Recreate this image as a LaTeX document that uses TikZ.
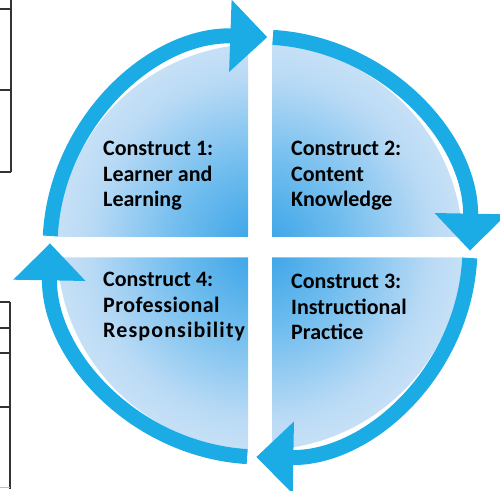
\documentclass[tikz,border=0pt]{standalone}
\usepackage{fontspec}
\setmainfont{Carlito}
\usepackage{tikz}
\usetikzlibrary{arrows.meta}

\definecolor{ringblue}{RGB}{27,172,230}
\definecolor{qdark}{RGB}{55,162,230}
\definecolor{qdeep}{RGB}{110,188,238}
\definecolor{qmid}{RGB}{185,218,245}
\definecolor{qlight}{RGB}{230,240,250}
\pgfdeclareradialshading{quadfill}{\pgfpoint{0bp}{0bp}}{color(0bp)=(qdark); color(10bp)=(qdeep); color(21bp)=(qmid); color(35bp)=(qlight); color(50bp)=(qlight)}

\begin{document}
\begin{tikzpicture}[x=1pt,y=1pt,
    cyclearrow/.style={line width=15pt,draw=ringblue,-{Triangle[length=37pt,width=70pt]}},
    construct/.style={anchor=west,align=left,inner sep=0pt,font=\fontsize{22}{25.5}\selectfont\bfseries},
    tableline/.style={draw=black!80,line width=1.2pt}]

    \useasboundingbox (0,0) rectangle (500,490);
    \coordinate (c) at (260,243);

    % quadrants
    \begin{scope}
        \clip (c) circle (203);
        \clip (0,0) rectangle (248,232.5) (272,0) rectangle (500,232.5)
              (0,253) rectangle (248,490) (272,253) rectangle (500,490);
        \shade[shading=quadfill] (c) circle (203);
    \end{scope}

    % cycle of arrows
    \draw[cyclearrow] (c) ++(177:210) arc[start angle=177,end angle=88,radius=210];
    \draw[cyclearrow] (c) ++(86.5:210) arc[start angle=86.5,end angle=-1,radius=210];
    \draw[cyclearrow] (c) ++(-3:210) arc[start angle=-3,end angle=-91,radius=210];
    \draw[cyclearrow] (c) ++(-93.5:210) arc[start angle=-93.5,end angle=-181,radius=210];

    \node[construct] (learner) at (103,314) {Construct 1:\\Learner and\\Learning};
    \node[construct] (content) at (291,314) {Construct 2:\\Content\\Knowledge};
    \node[construct] (practice) at (291,183) {Construct 3:\\Instructional\\Practice};
    \node[construct] (respons) at (103,183) {Construct 4:\\{\addfontfeatures{LetterSpace=2}Professional}\\{\addfontfeatures{LetterSpace=5}Responsibility}};

    % table edges at the left
    \draw[tableline] (11,490) -- (11,318);
    \foreach \y in {481,400,318} \draw[tableline] (0,\y) -- (11,\y);
    \draw[tableline] (10,188) -- (10,1);
    \foreach \y in {188,162,137,83} \draw[tableline] (0,\y) -- (10,\y);
    \draw[black!25,line width=0.8pt] (0,3) -- (10,3);
\end{tikzpicture}
\end{document}
